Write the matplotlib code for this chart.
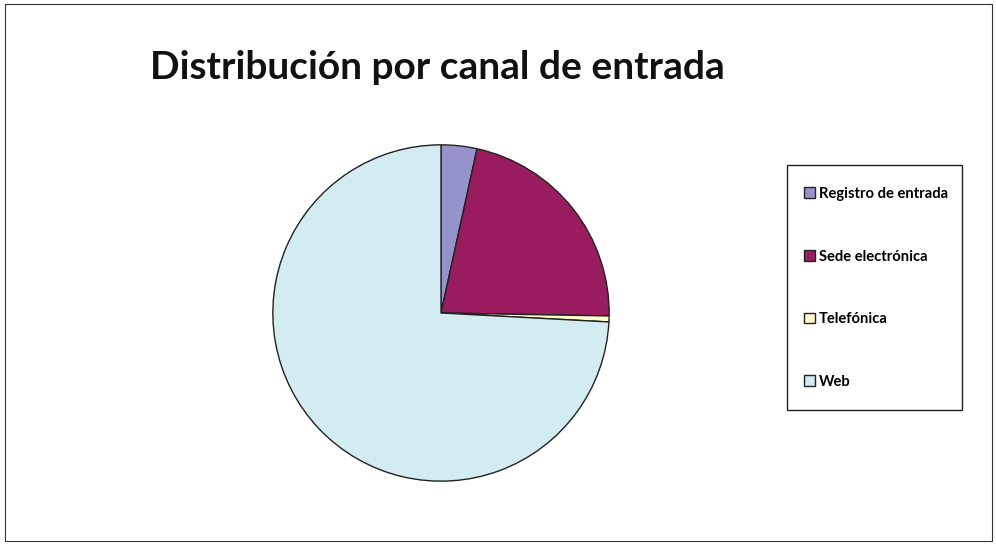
import matplotlib
matplotlib.use("Agg")
import matplotlib.pyplot as plt
from matplotlib.patches import Rectangle

categories = ["Registro de entrada", "Sede electrónica", "Telefónica", "Web"]
values = [3.44, 21.84, 0.57, 74.15]
colors = ["#9494CB", "#991C5E", "#FFFCCA", "#D2ECF2"]
title = "Distribución por canal de entrada"

W, H = 996, 545
fig = plt.figure(figsize=(W / 100, H / 100), dpi=100)
fig.patches.append(Rectangle((5 / W, 4 / H), (992 - 5) / W, (541 - 4) / H,
                             transform=fig.transFigure, fill=False,
                             edgecolor="#333333", linewidth=0.8))

cx, cy, r = 441, 313, 169
ax = fig.add_axes([(cx - r) / W, (H - cy - r) / H, 2 * r / W, 2 * r / H])
wedges, _ = ax.pie(values, colors=colors, startangle=90, counterclock=False,
                   wedgeprops=dict(edgecolor="#222222", linewidth=1.0))
ax.set_xlim(-1.005, 1.005)
ax.set_ylim(-1.005, 1.005)
ax.set_aspect("equal")
ax.axis("off")

fig.text(437 / W, 1 - 67 / H, title, ha="center", va="center",
         fontsize=28, fontweight="bold", family="Lato", color="#111111")

# legend frame
fig.patches.append(Rectangle((787 / W, 1 - 410 / H), (962 - 787) / W, (410 - 165) / H,
                             transform=fig.transFigure, fill=False,
                             edgecolor="#222222", linewidth=1.0))
leg = fig.legend(wedges, categories, loc="upper left",
                 bbox_to_anchor=(804 / W, 1 - 187 / H),
                 prop=dict(family="Lato", weight="bold", size=10.6),
                 frameon=False, borderpad=0, labelspacing=3.3,
                 handlelength=0.75, handleheight=0.75, handletextpad=0.27,
                 borderaxespad=0)
for h in leg.legend_handles:
    h.set_edgecolor("#222222")
    h.set_linewidth(1.0)

fig.savefig("out.png", dpi=100)
